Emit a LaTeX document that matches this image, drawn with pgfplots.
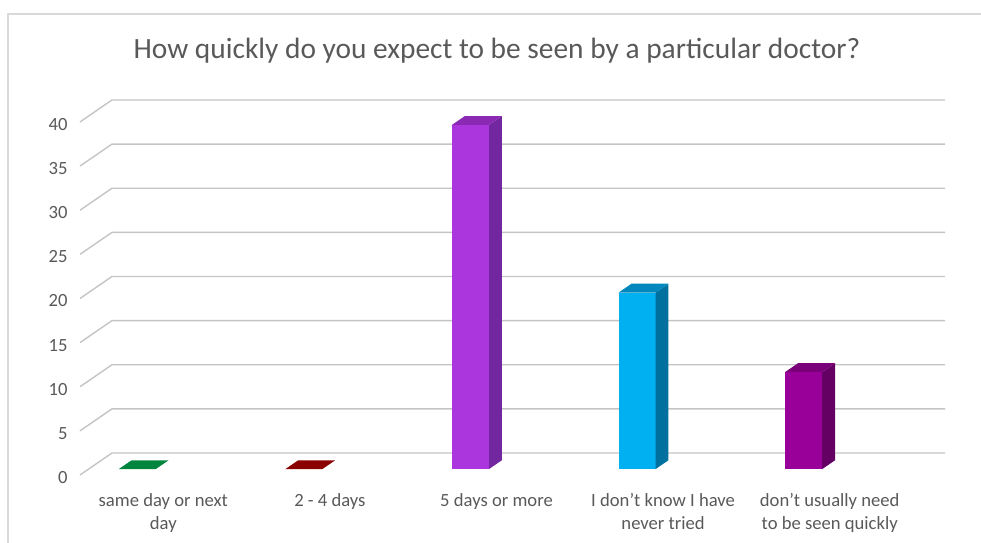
\documentclass[border=0pt]{standalone}
\usepackage{pgfplots}
\pgfplotsset{compat=1.18}
\usepackage{fontspec}
\setmainfont{Carlito}
\definecolor{txt}{HTML}{595959}
\definecolor{gridc}{HTML}{C4C4C4}
\definecolor{framec}{HTML}{D9D9D9}
\definecolor{grnT}{HTML}{00853E}
\definecolor{redT}{HTML}{8B0000}
\definecolor{purF}{HTML}{AC36DE}
\definecolor{purS}{HTML}{7226A0}
\definecolor{purT}{HTML}{8A2AB4}
\definecolor{cyaF}{HTML}{00B0F0}
\definecolor{cyaS}{HTML}{00709F}
\definecolor{cyaT}{HTML}{0088BE}
\definecolor{magF}{HTML}{990099}
\definecolor{magS}{HTML}{640064}
\definecolor{magT}{HTML}{7A007A}
% values: same day or next day = 0, 2 - 4 days = 0, 5 days or more = 39,
% I don't know I have never tried = 20, don't usually need to be seen quickly = 11
% bars drawn as 3D boxes: base at 0.673 (front face), depth offset (0.077, 0.997)
\begin{document}
\begin{tikzpicture}[x=1bp,y=1bp]
\useasboundingbox (0,0) rectangle (981,543);
\draw[framec, line width=1.2bp] (8,-5) -- (8,529) -- (995,529);
\node[font=\fontsize{29.5}{35}\selectfont, text=txt] at (497,492)
  {How quickly do you expect to be seen by a particular doctor?};
\begin{axis}[
  at={(80bp,68bp)}, anchor=south west, scale only axis,
  width=865bp, height=375bp,
  xmin=-0.5, xmax=4.692, ymin=0, ymax=42.49,
  clip=false,
  axis line style={draw=none}, major tick style={draw=none},
  /pgf/number format/assume math mode=true,
  ytick={0,5,...,40},
  yticklabel style={font=\fontsize{18.7}{22}\selectfont, text=txt, xshift=-9bp, yshift=-2.5bp},
  xtick={0,1,2,3,4},
  xticklabels={{same day or next\\day},{2 - 4 days},{5 days or more},{I don’t know I have\\never tried},{don’t usually need\\to be seen quickly}},
  xticklabel style={font=\fontsize{18.7}{23}\selectfont, text=txt, align=center, yshift=-15bp},
]
\pgfplotsinvokeforeach{0,5,...,40}{
  \draw[gridc, line width=1.4bp] (axis cs:-0.5,#1) -- (axis cs:-0.308,#1+2.493) -- (axis cs:4.692,#1+2.493);
}
% zero-height bars: top faces only
\addplot[fill=grnT, draw=none] coordinates {(-0.267,0.673) (-0.045,0.673) (0.032,1.67) (-0.19,1.67)} -- cycle;
\addplot[fill=redT, draw=none] coordinates {(0.733,0.673) (0.955,0.673) (1.032,1.67) (0.81,1.67)} -- cycle;
% 5 days or more = 39
\addplot[fill=purF, draw=none] coordinates {(1.733,0.673) (1.955,0.673) (1.955,39.673) (1.733,39.673)} -- cycle;
\addplot[fill=purS, draw=none] coordinates {(1.955,0.673) (2.032,1.67) (2.032,40.67) (1.955,39.673)} -- cycle;
\addplot[fill=purT, draw=none] coordinates {(1.733,39.673) (1.955,39.673) (2.032,40.67) (1.81,40.67)} -- cycle;
% I don't know = 20
\addplot[fill=cyaF, draw=none] coordinates {(2.733,0.673) (2.955,0.673) (2.955,20.673) (2.733,20.673)} -- cycle;
\addplot[fill=cyaS, draw=none] coordinates {(2.955,0.673) (3.032,1.67) (3.032,21.67) (2.955,20.673)} -- cycle;
\addplot[fill=cyaT, draw=none] coordinates {(2.733,20.673) (2.955,20.673) (3.032,21.67) (2.81,21.67)} -- cycle;
% don't usually need = 11
\addplot[fill=magF, draw=none] coordinates {(3.733,0.673) (3.955,0.673) (3.955,11.673) (3.733,11.673)} -- cycle;
\addplot[fill=magS, draw=none] coordinates {(3.955,0.673) (4.032,1.67) (4.032,12.67) (3.955,11.673)} -- cycle;
\addplot[fill=magT, draw=none] coordinates {(3.733,11.673) (3.955,11.673) (4.032,12.67) (3.81,12.67)} -- cycle;
\end{axis}
\end{tikzpicture}
\end{document}
